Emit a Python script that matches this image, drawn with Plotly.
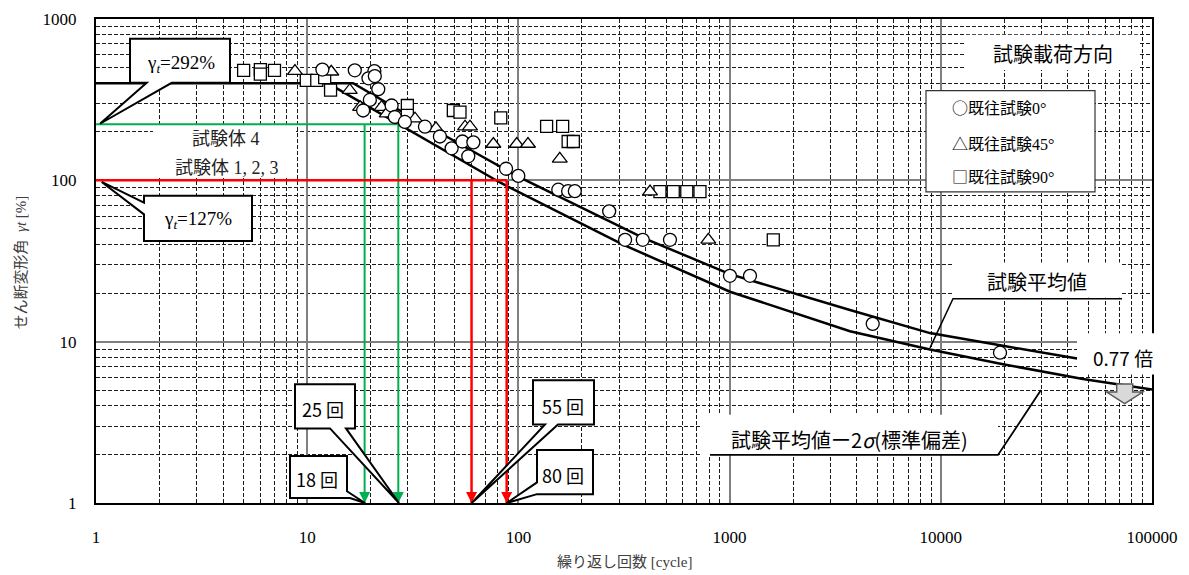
import plotly.graph_objects as go

# ---------------- data ----------------
c0_x = [11.8, 16.8, 20.8, 19.5, 20.9, 21.7, 19.8, 18.4, 25.1, 26.0, 29.0, 36.1, 42.5, 48.3,
        54.3, 61.2, 57.9, 87.4, 99.9, 154.5, 172, 185, 269, 320, 388, 522, 1004, 1249, 4760, 19070]
c0_y = [486, 481, 475, 429, 443, 367, 315, 271, 291, 247, 230, 215, 187, 158,
        174, 172, 141, 118, 106.5, 87.5, 85.7, 85.7, 64.3, 42.8, 42.8, 42.8, 25.6, 25.6, 12.9, 8.54]

t45_x = [8.75, 13.0, 15.9, 17.8, 22.5, 23.8, 32.4, 40.7, 55.9, 59.0, 76.1, 98.2, 111, 157, 420, 793]
t45_y = [475, 471, 362, 284, 284, 259, 241, 210, 215, 215, 168, 168, 168, 136, 85.1, 42.8]

s90_x = [5.0, 6.0, 6.0, 7.0, 9.9, 11.1, 12.1, 12.9, 29.8, 29.8, 49.2, 52.9, 82.5, 136, 162,
         172, 182, 468, 541, 627, 724, 1610]
s90_y = [481, 486, 455, 481, 417, 417, 433, 362, 291, 253, 271, 265, 244, 216, 216,
         174, 174, 85.1, 85.1, 85.1, 85.1, 42.8]

mean_x = [1, 16.5, 27.5, 98.2, 390, 1004, 3715, 8890, 19700, 44200]
mean_y = [400, 400, 271, 106.5, 44.0, 26.2, 15.7, 11.3, 9.42, 7.86]

low_x = [12.5, 13.8, 27.5, 81.8, 313, 1004, 3715, 8890, 19700, 47100, 100000]
low_y = [400, 371, 220, 97, 39.9, 20.4, 11.6, 8.95, 7.25, 5.87, 5.06]

green_level = 223
green_x = [18.7, 27.0]
red_level = 100
red_x = [60.0, 88.0]

x_ticks = [1, 10, 100, 1000, 10000, 100000]
y_ticks = [1, 10, 100, 1000]

# ---------------- layout helpers ----------------
W, H = 1189, 575
L, R, T, B = 96, 37, 10, 72
PW, PH = W - L - R, H - T - B


def fx(px):
    return (px - L) / PW


def fy(py):
    return (H - B - py) / PH


def path(pts, close=True):
    s = "M " + " L ".join(f"{fx(x):.5f},{fy(y):.5f}" for x, y in pts)
    return s + (" Z" if close else "")


GREEN = "#00b050"
RED = "#ff0000"
SERIF = "Liberation Serif, Noto Sans CJK JP"
SANS = "Noto Sans CJK JP, Noto Sans"

fig = go.Figure()

# curves
fig.add_trace(go.Scatter(x=mean_x, y=mean_y, mode="lines",
                         line=dict(color="black", width=2.5), hoverinfo="skip"))
fig.add_trace(go.Scatter(x=low_x, y=low_y, mode="lines",
                         line=dict(color="black", width=2.5), hoverinfo="skip"))

# green / red guide lines
fig.add_trace(go.Scatter(x=[1, max(green_x)], y=[green_level, green_level], mode="lines",
                         line=dict(color=GREEN, width=2), hoverinfo="skip"))
for gx in green_x:
    fig.add_trace(go.Scatter(x=[gx, gx], y=[green_level, 1], mode="lines",
                             line=dict(color=GREEN, width=2), hoverinfo="skip"))
fig.add_trace(go.Scatter(x=[1, max(red_x)], y=[red_level, red_level], mode="lines",
                         line=dict(color=RED, width=2.5), hoverinfo="skip"))
for rx in red_x:
    fig.add_trace(go.Scatter(x=[rx, rx], y=[red_level, 1], mode="lines",
                             line=dict(color=RED, width=2.5), hoverinfo="skip"))
# arrow heads
fig.add_trace(go.Scatter(x=green_x, y=[1] * len(green_x), mode="markers", cliponaxis=False,
                         marker=dict(symbol="arrow-down", size=11, color=GREEN, line=dict(width=0)),
                         hoverinfo="skip"))
fig.add_trace(go.Scatter(x=red_x, y=[1] * len(red_x), mode="markers", cliponaxis=False,
                         marker=dict(symbol="arrow-down", size=11, color=RED, line=dict(width=0)),
                         hoverinfo="skip"))

# data markers
mk_line = dict(color="black", width=1.3)
fig.add_trace(go.Scatter(x=s90_x, y=s90_y, mode="markers", name="既往試験90°",
                         marker=dict(symbol="square", size=12, color="white", line=mk_line)))
fig.add_trace(go.Scatter(x=t45_x, y=t45_y, mode="markers", name="既往試験45°",
                         marker=dict(symbol="triangle-up", size=13, color="white", line=mk_line)))
fig.add_trace(go.Scatter(x=c0_x, y=c0_y, mode="markers", name="既往試験0°",
                         marker=dict(symbol="circle", size=13, color="white", line=mk_line)))

shapes = []


def add_poly(pts, fill="white", line="black", width=2, close=True):
    shapes.append(dict(type="path", xref="paper", yref="paper", path=path(pts, close),
                       fillcolor=fill if close else None, line=dict(color=line, width=width),
                       layer="above"))


def add_rect(x0, y0, x1, y1, fill="white", line=None, width=0):
    shapes.append(dict(type="rect", xref="paper", yref="paper", x0=fx(x0), x1=fx(x1),
                       y0=fy(y1), y1=fy(y0), fillcolor=fill,
                       line=dict(color=line or fill, width=width), layer="above"))


# white text backgrounds
add_rect(153, 119, 296, 172)
add_rect(966, 26, 1138, 62)
add_rect(953, 258, 1122, 294)
add_rect(702, 413, 998, 454)
add_rect(1077, 330, 1160, 372)
# legend box
add_rect(926, 83, 1095, 186, fill="white", line="#333333", width=1.2)

# callouts
add_poly([(130, 30), (230, 30), (230, 75), (171.7, 75), (100, 116.7), (146.7, 75), (130, 75)])
add_poly([(144, 190), (252, 190), (252, 236), (144, 236), (144, 209), (101.7, 176), (144, 197)])
add_poly([(295, 382), (355, 382), (355, 427), (346, 427), (399, 503), (330, 427), (295, 427)])
add_poly([(290, 455), (347, 455), (347, 491), (365, 503), (350, 498), (290, 498)])
add_poly([(533, 378), (594, 378), (594, 423), (558, 423), (471.7, 503), (545, 423), (533, 423)])
add_poly([(537, 449), (593, 449), (593, 494), (537, 494), (506.7, 503), (537, 482)])
add_poly([(930, 345), (953, 295), (1122, 295)], close=False, width=1.5)
add_poly([(710, 454), (998, 454), (1041, 388)], close=False, width=1.8)
# gray block arrow
add_poly([(1116.7, 381.7), (1132.7, 381.7), (1132.7, 390), (1142.7, 390), (1124.7, 401.7),
          (1106.7, 390), (1116.7, 390)], fill="#d9d9d9", line="#595959", width=1.5)

annotations = []


def add_text(px, py, text, size, family=SANS, color="black", xanchor="center", angle=0):
    annotations.append(dict(x=fx(px), y=fy(py), xref="paper", yref="paper", text=text,
                            showarrow=False, xanchor=xanchor, yanchor="middle", textangle=angle,
                            font=dict(size=size, family=family, color=color)))


SYM = "<span style='font-family:Noto Sans CJK JP'>{}</span>"

add_text(181, 56, "γ<sub><i>t</i></sub>=292%", 19, SERIF)
add_text(198, 215, "γ<sub><i>t</i></sub>=127%", 19, SERIF)
add_text(226, 132, "試験体 4", 18, SERIF, "#222")
add_text(227, 162, "試験体 1, 2, 3", 18, SERIF, "#222")
add_text(1053, 45, "試験載荷方向", 20)
add_text(950, 100, SYM.format("○") + "既往試験0°", 16, SERIF, xanchor="left")
add_text(950, 136, SYM.format("△") + "既往試験45°", 16, SERIF, xanchor="left")
add_text(950, 170, SYM.format("□") + "既往試験90°", 16, SERIF, xanchor="left")
add_text(1037, 277, "試験平均値", 20)
add_text(1123, 355, "0.77 倍", 19)
add_text(849, 438, "試験平均値ー2<i>σ</i>(標準偏差)", 20)
add_text(323, 407, "25 回", 18)
add_text(317, 479, "18 回", 18)
add_text(563, 404, "55 回", 18)
add_text(563, 474, "80 回", 18)
add_text(624, 563, "繰り返し回数 [cycle]", 15, SERIF, "#404040")
add_text(21, 258, "せん断変形角  <i>γt</i> [%]", 15, SERIF, "#404040", angle=-90)

axis_common = dict(
    type="log", showgrid=True, gridcolor="#7f7f7f", gridwidth=1.5,
    showline=True, linecolor="black", linewidth=2, mirror=True,
    ticks="", zeroline=False,
    tickfont=dict(family="Liberation Serif", size=17, color="black"),
    minor=dict(showgrid=True, gridcolor="#1a1a1a", gridwidth=1, griddash="4px,2px", dtick="D1"),
)

fig.update_layout(
    width=W, height=H,
    margin=dict(l=L, r=R, t=T, b=B),
    paper_bgcolor="white", plot_bgcolor="white",
    showlegend=False,
    xaxis=dict(range=[0, 5], tickvals=x_ticks, ticktext=[str(v) for v in x_ticks],
               ticklabelstandoff=18, **axis_common),
    yaxis=dict(range=[0, 3], tickvals=y_ticks, ticktext=[str(v) for v in y_ticks],
               ticklabelstandoff=14, **axis_common),
    shapes=shapes,
    annotations=annotations,
)

fig.write_html("out.html")
